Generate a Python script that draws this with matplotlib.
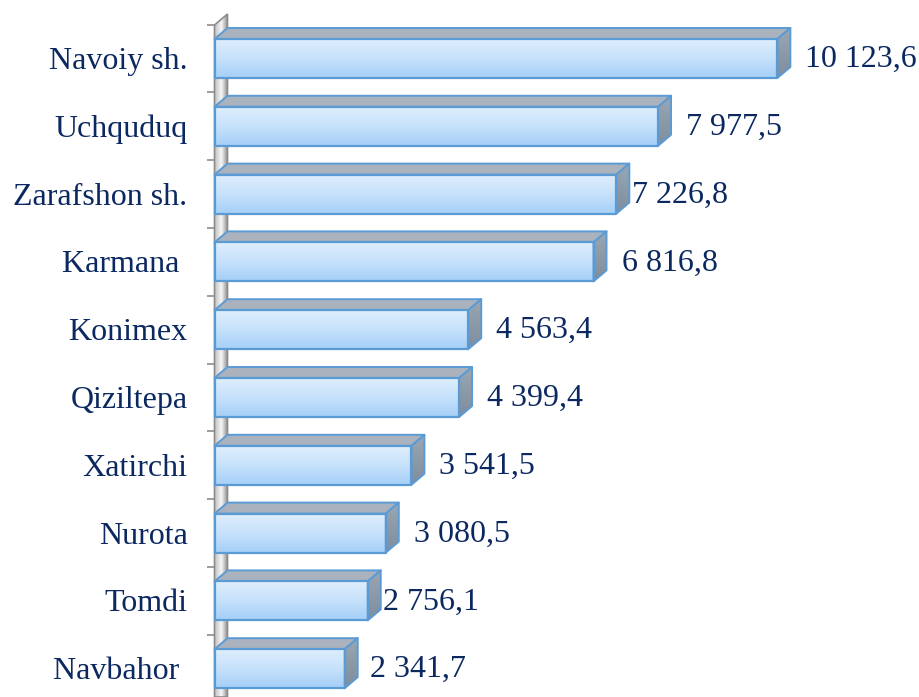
import numpy as np
import matplotlib
matplotlib.use("Agg")
import matplotlib.pyplot as plt
from matplotlib.patches import Polygon
from matplotlib.colors import LinearSegmentedColormap

categories = ["Navoiy sh.", "Uchquduq", "Zarafshon sh.", "Karmana ", "Konimex",
              "Qiziltepa", "Xatirchi", "Nurota", "Tomdi", "Navbahor "]
values = [10123.6, 7977.5, 7226.8, 6816.8, 4563.4, 4399.4, 3541.5, 3080.5, 2756.1, 2341.7]
value_labels = ["10 123,6", "7 977,5", "7 226,8", "6 816,8", "4 563,4",
                "4 399,4", "3 541,5", "3 080,5", "2 756,1", "2 341,7"]
# extra horizontal nudges (pixels) for value labels
label_nudge = [0, 0, -12, 0, 0, 0, 0, 0, -13, -3]

W, H = 919, 697
fig = plt.figure(figsize=(W / 100, H / 100), dpi=100)
ax = fig.add_axes([0, 0, 1, 1])
ax.set_axis_off()

# pixel layout -> data coordinates
x0_px, px_per_unit = 214.5, 0.0556
y0_px, px_per_cat = 58.5, 67.8
xlim = (-x0_px / px_per_unit, (W - x0_px) / px_per_unit)
ylim = ((H - y0_px) / px_per_cat, -y0_px / px_per_cat)
ux = 1 / px_per_unit      # data units per pixel (x)
uy = 1 / px_per_cat       # data units per pixel (y)

depth_dx, depth_dy = 13 * ux, -11 * uy
face_h = 39 * uy

edge_blue = "#5b9bd5"
navy = "#0b2860"

def grad_fill(poly_pts, colors, vertical=True, zorder=1):
    patch = Polygon(poly_pts, closed=True, facecolor="none", edgecolor="none", zorder=zorder)
    ax.add_patch(patch)
    xs = [p[0] for p in poly_pts]
    ys = [p[1] for p in poly_pts]
    cmap = LinearSegmentedColormap.from_list("g", colors)
    if vertical:
        g = np.linspace(0, 1, 64).reshape(-1, 1)
    else:
        g = np.linspace(0, 1, 64).reshape(1, -1)
    im = ax.imshow(g, cmap=cmap, aspect="auto", origin="upper",
                   extent=(min(xs), max(xs), max(ys), min(ys)), zorder=zorder,
                   interpolation="bilinear")
    im.set_clip_path(patch)
    return patch

# ---- left wall ----
wall_top = -y0_px / px_per_cat + 25 * uy   # y at pixel 25
wall_bot = ylim[0]
wall_pts = [(0, wall_bot), (0, wall_top), (depth_dx, wall_top + depth_dy), (depth_dx, wall_bot)]
grad_fill(wall_pts, ["#c4c4c4", "#f7f7f7", "#8a8a8a"], vertical=False, zorder=1)
ax.add_patch(Polygon(wall_pts, closed=True, facecolor="none", edgecolor="#8c8c8c",
                     lw=1.2, zorder=1.5))

# ticks at category boundaries
for i in range(len(categories) + 1):
    yb = i - 0.5
    ax.plot([-8 * ux, 0], [yb, yb], color="#8c8c8c", lw=1.2, zorder=1.5,
            solid_capstyle="butt")

# ---- bars ----
for i, (v, lab) in enumerate(zip(values, value_labels)):
    yt, yb = i - face_h / 2, i + face_h / 2
    z = 3 + i * 0.01
    # top face
    top = [(0, yt), (v, yt), (v + depth_dx, yt + depth_dy), (depth_dx, yt + depth_dy)]
    ax.add_patch(Polygon(top, closed=True, facecolor="#aab3bd", edgecolor=edge_blue,
                         lw=1.4, zorder=z, joinstyle="round"))
    # side face
    side = [(v, yt), (v + depth_dx, yt + depth_dy), (v + depth_dx, yb + depth_dy), (v, yb)]
    grad_fill(side, ["#9aa7b4", "#7e8d9c"], vertical=True, zorder=z)
    ax.add_patch(Polygon(side, closed=True, facecolor="none", edgecolor=edge_blue,
                         lw=1.4, zorder=z + 0.001, joinstyle="round"))
    # front face
    front = [(0, yt), (v, yt), (v, yb), (0, yb)]
    grad_fill(front, ["#deeefd", "#c6e1fb", "#a5cff8"], vertical=True, zorder=z)
    ax.add_patch(Polygon(front, closed=True, facecolor="none", edgecolor=edge_blue,
                         lw=1.6, zorder=z + 0.002, joinstyle="round"))
    # value label
    ax.annotate(lab, xy=(v + depth_dx, i), xytext=(15 + label_nudge[i], -1),
                textcoords="offset pixels", ha="left", va="center",
                fontsize=23, family="Liberation Serif", color=navy, zorder=10)
    # category label
    ax.annotate(categories[i], xy=(0, i), xytext=(-27, -3),
                textcoords="offset pixels", ha="right", va="center",
                fontsize=23, family="Liberation Serif", color=navy, zorder=10)

ax.set_xlim(*xlim)
ax.set_ylim(*ylim)
fig.savefig("out.png", dpi=100, facecolor="white")
